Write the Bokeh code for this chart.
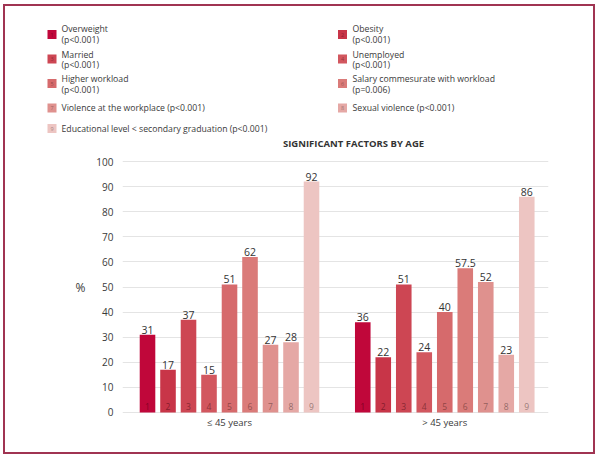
from bokeh.plotting import figure
from bokeh.layouts import column
from bokeh.models import ColumnDataSource, FixedTicker, Range1d
from bokeh.core.properties import value
from bokeh.embed import file_html
from bokeh.resources import INLINE

# ---------------- data ----------------
chart_title = "SIGNIFICANT FACTORS BY AGE"
factor_names = ["Overweight", "Obesity", "Married", "Unemployed", "Higher workload",
                "Salary commesurate with workload", "Violence at the workplace",
                "Sexual violence", "Educational level < secondary graduation "]
p_values = ["(p<0.001)", "(p<0.001)", "(p<0.001)", "(p<0.001)", "(p<0.001)",
            "(p=0.006)", "(p<0.001)", "(p<0.001)", "(p<0.001)"]
factor_numbers = ["1", "2", "3", "4", "5", "6", "7", "8", "9"]
group_labels = ["\u2264 45 years", "> 45 years"]
values_le45 = [31, 17, 37, 15, 51, 62, 27, 28, 92]
values_gt45 = [36, 22, 51, 24, 40, 57.5, 52, 23, 86]
value_texts_le45 = ["31", "17", "37", "15", "51", "62", "27", "28", "92"]
value_texts_gt45 = ["36", "22", "51", "24", "40", "57.5", "52", "23", "86"]
y_ticks = [0, 10, 20, 30, 40, 50, 60, 70, 80, 90, 100]

# ---------------- styles ----------------
bar_colors = ["#C0073A", "#C83548", "#CD4653", "#D2575F", "#D66A6C",
              "#DA7B79", "#DF918E", "#E5A8A5", "#EDC5C2"]
num_colors = ["#7A0022", "#7C1828", "#80242E", "#842E35", "#88403F",
              "#8A4A48", "#8C5856", "#8A6260", "#927270"]
FONT = "Open Sans"
TXT = "#3a3a3a"
OX, OY = 5, 6            # offset of the framed panel on the page
W = 588                  # panel width
TOP_H = 144              # legend + title strip height
BOT_H = 302              # chart height


def no_align(fig):
    try:
        fig.frame_align = False
    except Exception:
        pass


# ---------------- legend strip ----------------
top = figure(width=W, height=TOP_H, x_range=Range1d(OX, OX + W), y_range=Range1d(OY + TOP_H, OY),
             toolbar_location=None, output_backend="svg", min_border=0,
             x_axis_location=None, y_axis_location=None, outline_line_color=None)
no_align(top)
for g in top.grid:
    g.visible = False

col_sq_x = [51.5, 342]
col_tx_x = [61, 352]
row_y = [28.5, 54.3, 78.7, 107.3, 128.7]
row_sq = [34, 58.5, 83, 107.5, 128]
sq_x, sq_y, sq_c, n_c = [], [], [], []
l_x, l_y, l_t = [], [], []
for k in range(len(factor_names)):
    c, r = k % 2, k // 2
    sq_x.append(col_sq_x[c])
    sq_y.append(row_sq[r])
    sq_c.append(bar_colors[k])
    n_c.append(num_colors[k])
    if r < 3:
        l_x += [col_tx_x[c], col_tx_x[c]]
        l_y += [row_y[r], row_y[r] + 10.5]
        l_t += [factor_names[k], p_values[k]]
    else:
        l_x.append(col_tx_x[c])
        l_y.append(row_y[r])
        l_t.append(factor_names[k] + " " + p_values[k])

top.rect(x=sq_x, y=sq_y, width=9, height=9, width_units="screen", height_units="screen",
         fill_color=sq_c, line_color=None)
top.text(x=sq_x, y=sq_y, text=factor_numbers, text_font=value(FONT), text_font_size="5.5px",
         text_align="center", text_baseline="middle", text_color=n_c, text_alpha=0.8)
top.text(x=l_x, y=l_y, text=l_t, text_font=value(FONT), text_font_size="8.7px",
         text_baseline="middle", text_color=TXT)
top.text(x=[353], y=[143], text=[chart_title], text_font=value(FONT), text_font_size="9.5px",
         text_font_style="bold", text_align="center", text_baseline="middle", text_color="#333333")

# ---------------- chart ----------------
BL, BR, BT, BB = 117, 45, 10, 39
p = figure(width=W, height=BOT_H, x_range=Range1d(-0.22, 20.56), y_range=Range1d(-0.4, 100.4),
           toolbar_location=None, output_backend="svg",
           min_border_left=BL, min_border_right=BR, min_border_top=BT, min_border_bottom=BB,
           outline_line_color=None)
no_align(p)

group_offsets = [1, 11.5]
xs, tops, cols, ncols, vtexts, nums = [], [], [], [], [], []
for gi, (vals, vt) in enumerate([(values_le45, value_texts_le45), (values_gt45, value_texts_gt45)]):
    for i, v in enumerate(vals):
        xs.append(group_offsets[gi] + i)
        tops.append(v)
        cols.append(bar_colors[i])
        ncols.append(num_colors[i])
        vtexts.append(vt[i])
        nums.append(factor_numbers[i])
src = ColumnDataSource(dict(x=xs, top=tops, color=cols, ncolor=ncols, vtext=vtexts, num=nums))

p.vbar(x="x", top="top", width=0.76, bottom=0, fill_color="color", line_color=None, source=src)
p.text(x="x", y="top", text="vtext", source=src, text_font=value(FONT), text_font_size="10.5px",
       text_align="center", text_baseline="bottom", y_offset=-1, text_color="#333333")
p.text(x="x", y=0, text="num", source=src, text_font=value(FONT), text_font_size="8.5px",
       text_align="center", text_baseline="middle", y_offset=-6, text_color="ncolor",
       text_alpha=0.9)

p.xgrid.visible = False
p.ygrid.grid_line_color = "#e4e4e4"
p.ygrid.ticker = FixedTicker(ticks=y_ticks)

p.yaxis.ticker = FixedTicker(ticks=y_ticks)
p.yaxis.axis_line_color = None
p.yaxis.major_tick_line_color = None
p.yaxis.minor_tick_line_color = None
p.yaxis.major_tick_out = 0
p.yaxis.major_label_standoff = 9
p.yaxis.major_label_text_font = FONT
p.yaxis.major_label_text_font_size = "10px"
p.yaxis.major_label_text_color = TXT
p.yaxis.axis_label = "%"
p.yaxis.axis_label_text_font = FONT
p.yaxis.axis_label_text_font_size = "12px"
p.yaxis.axis_label_text_font_style = "normal"
p.yaxis.axis_label_text_color = TXT
p.yaxis.axis_label_standoff = 8
p.yaxis.axis_label_orientation = "horizontal"

group_centers = [group_offsets[0] + 4, group_offsets[1] + 4]
p.xaxis.ticker = FixedTicker(ticks=group_centers)
p.xaxis.major_label_overrides = {group_centers[0]: group_labels[0], group_centers[1]: group_labels[1]}
p.xaxis.axis_line_color = None
p.xaxis.major_tick_line_color = None
p.xaxis.minor_tick_line_color = None
p.xaxis.major_tick_out = 0
p.xaxis.major_label_standoff = 2
p.xaxis.major_label_text_font = FONT
p.xaxis.major_label_text_font_size = "9.5px"
p.xaxis.major_label_text_color = TXT

layout = column(top, p, spacing=0,
                styles={"margin-left": f"{OX}px", "margin-top": f"{OY}px",
                        "outline": "2px solid #A03452"})

open("out.html", "w").write(file_html(layout, INLINE))
